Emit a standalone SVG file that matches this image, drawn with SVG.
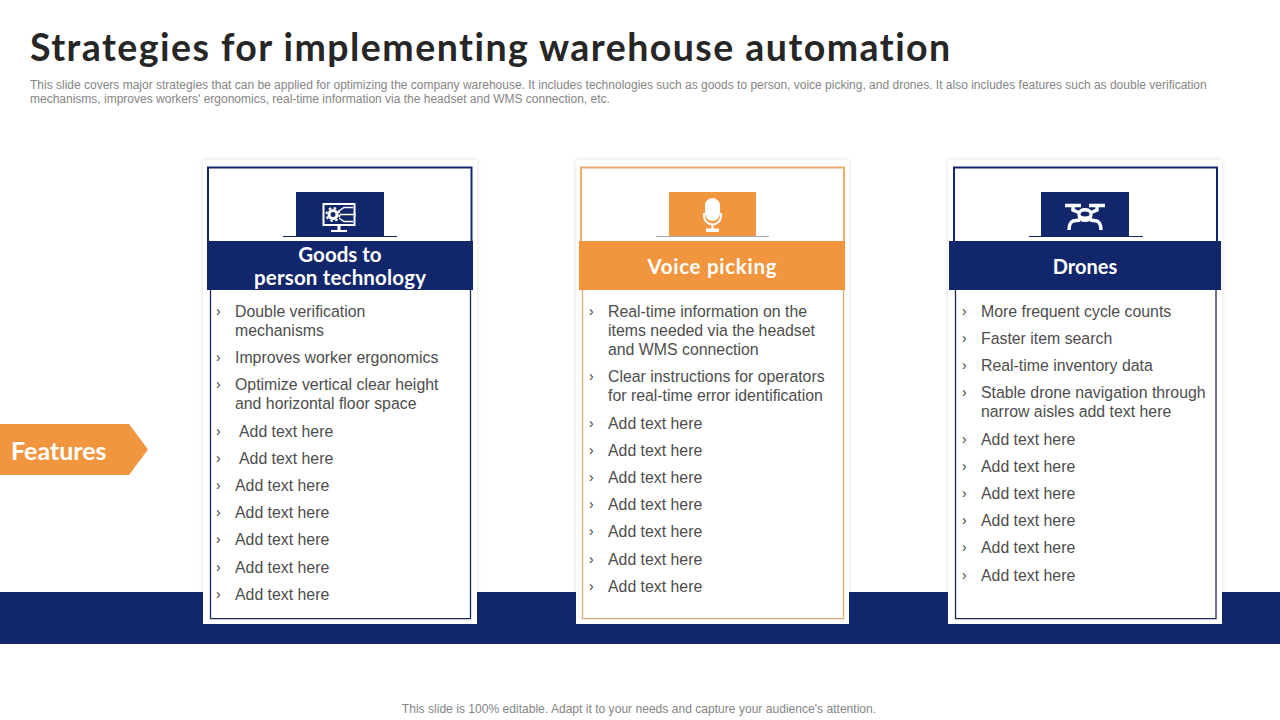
<svg xmlns="http://www.w3.org/2000/svg" width="1280" height="720" viewBox="0 0 1280 720">
<style>
.title{font:700 37.500px Lato,"Liberation Sans",sans-serif;fill:#262626;letter-spacing:1.450px}
.sub{font:12px "Liberation Sans",Arial,sans-serif;fill:#858585}
.hd{font:700 20.500px Lato,"Liberation Sans",sans-serif;fill:#fff;text-anchor:middle}
.it{font:15.850px "Liberation Sans",Arial,sans-serif;fill:#4d4d4d}
.ch{font:14px "Liberation Sans",Arial,sans-serif;fill:#404040}
.card{fill:#fff;filter:url(#sh)}
.navy{fill:#12276b}
.orange{fill:#f2953f}
</style>
<defs>
<filter id="sh" x="-5%" y="-5%" width="110%" height="110%"><feDropShadow dx="0" dy="0" stdDeviation="2" flood-color="#000" flood-opacity=".13"/></filter>
</defs>
<rect width="1280" height="720" fill="#fff"/>
<text class="title" x="30" y="61">Strategies for implementing warehouse automation</text>
<text class="sub" x="30" y="89">This slide covers major strategies that can be applied for optimizing the company warehouse. It includes technologies such as goods to person, voice picking, and drones. It also includes features such as double verification</text>
<text class="sub" x="30" y="103">mechanisms, improves workers' ergonomics, real-time information via the headset and WMS connection, etc.</text>
<rect id="band" class="navy" x="0" y="592" width="1280" height="52"/>
<g id="features"><path class="orange" d="M0 424H129L148 449.500L129 475H0Z"/><text x="11" y="460" style="font:700 25px Lato,'Liberation Sans',sans-serif;fill:#fff">Features</text></g>

<g id="card1">
<rect class="card" x="203" y="160" width="274" height="464"/>
<path stroke="#12276b" stroke-width="2" fill="none" d="M208 241V167.500H471.500V241"/>
<path fill="none" stroke="#1c2a55" stroke-width="1.300" d="M210.500 290V618.700H470.500V290"/>
<rect class="navy" x="296" y="192" width="88" height="45"/>
<path stroke="#12276b" d="M283 236.500H397"/>
<g fill="none" stroke="#fff" stroke-width="2"><rect x="323.500" y="204" width="31" height="21"/><circle cx="333" cy="214.500" r="4" stroke-width="3"/><circle cx="333" cy="214.500" r="6.500" stroke-width="2" stroke-dasharray="2.500 2.600"/><path d="M339 211L344 207.500H353M340 214.500H356M339 218L344 221.500H353" stroke-width="1.500"/><path d="M339 225V230" stroke-width="3"/><path d="M331 231H347" stroke-width="2"/></g>
<rect class="navy" x="207" y="241" width="266" height="49"/>
<text class="hd" x="340" y="262">Goods to</text><text class="hd" x="340" y="285" textLength="172" lengthAdjust="spacing">person technology</text>
<g class="ch"><text x="216" y="316">›</text><text x="216" y="362">›</text><text x="216" y="389">›</text><text x="216" y="436">›</text><text x="216" y="463">›</text><text x="216" y="490">›</text><text x="216" y="517">›</text><text x="216" y="544">›</text><text x="216" y="572">›</text><text x="216" y="599">›</text></g>
<g class="it"><text x="235" y="317">Double verification</text><text x="235" y="336">mechanisms</text><text x="235" y="363">Improves worker ergonomics</text><text x="235" y="390">Optimize vertical clear height</text><text x="235" y="409">and horizontal floor space</text><text x="239" y="437">Add text here</text><text x="239" y="464">Add text here</text><text x="235" y="491">Add text here</text><text x="235" y="518">Add text here</text><text x="235" y="545">Add text here</text><text x="235" y="573">Add text here</text><text x="235" y="600">Add text here</text></g>
</g>

<g id="card2">
<rect class="card" x="576" y="160" width="273" height="464"/>
<path fill="none" stroke="#ecaa6c" stroke-width="2" d="M581 241V167.500H844V241"/>
<path fill="none" stroke="#e0ad75" stroke-width="1.300" d="M582.500 290V618.700H843.500V290"/>
<rect class="orange" x="669" y="192" width="87" height="45"/>
<path stroke="#a8a8a8" d="M656 236.500H769"/>
<rect x="705" y="198" width="15" height="23" rx="7.500" fill="#fff"/>
<path d="M704 213V216a8.500 8.500 0 0 0 17 0V213M712.500 225V230" fill="none" stroke="#fff" stroke-width="2"/>
<rect x="706" y="228.500" width="13" height="3.500" fill="#fff"/>
<rect class="orange" x="579" y="241" width="266" height="49"/>
<text class="hd" x="712" y="274" textLength="129" lengthAdjust="spacing">Voice picking</text>
<g class="ch"><text x="589" y="316">›</text><text x="589" y="381">›</text><text x="589" y="428">›</text><text x="589" y="455">›</text><text x="589" y="482">›</text><text x="589" y="509">›</text><text x="589" y="536">›</text><text x="589" y="564">›</text><text x="589" y="591">›</text></g>
<g class="it"><text x="608" y="317">Real-time information on the</text><text x="608" y="336">items needed via the headset</text><text x="608" y="355">and WMS connection</text><text x="608" y="382">Clear instructions for operators</text><text x="608" y="401">for real-time error identification</text><text x="608" y="429">Add text here</text><text x="608" y="456">Add text here</text><text x="608" y="483">Add text here</text><text x="608" y="510">Add text here</text><text x="608" y="537">Add text here</text><text x="608" y="565">Add text here</text><text x="608" y="592">Add text here</text></g>
</g>

<g id="card3">
<rect class="card" x="948" y="160" width="274" height="464"/>
<path fill="none" stroke="#12276b" stroke-width="2" d="M954 241V167.500H1217V241"/>
<path fill="none" stroke="#1c2a55" stroke-width="1.300" d="M955.500 290V618.700H1216V290"/>
<rect class="navy" x="1041" y="192" width="88" height="45"/>
<path stroke="#12276b" d="M1029 236.500H1143"/>
<g fill="none" stroke="#fff" stroke-width="3.500"><path d="M1065 205.500H1081M1089 205.500H1105" stroke-width="3.500"/><path d="M1073 205V210L1080 213M1097 205V210L1090 213"/><rect x="1077.500" y="208" width="15" height="14" rx="6.500" fill="#fff" stroke="none"/><ellipse cx="1085" cy="214" rx="4.500" ry="2.500" fill="#12276b" stroke="none"/><path d="M1080 220L1073 221Q1069 223 1069 230M1090 220L1097 221Q1101 223 1101 230"/></g>
<rect class="navy" x="949" y="241" width="272" height="49"/>
<text class="hd" x="1085" y="274" style="font-size:20px">Drones</text>
<g class="ch"><text x="962" y="316">›</text><text x="962" y="343">›</text><text x="962" y="370">›</text><text x="962" y="397">›</text><text x="962" y="444">›</text><text x="962" y="471">›</text><text x="962" y="498">›</text><text x="962" y="525">›</text><text x="962" y="552">›</text><text x="962" y="580">›</text></g>
<g class="it"><text x="981" y="317">More frequent cycle counts</text><text x="981" y="344">Faster item search</text><text x="981" y="371">Real-time inventory data</text><text x="981" y="398">Stable drone navigation through</text><text x="981" y="417">narrow aisles add text here</text><text x="981" y="445">Add text here</text><text x="981" y="472">Add text here</text><text x="981" y="499">Add text here</text><text x="981" y="526">Add text here</text><text x="981" y="553">Add text here</text><text x="981" y="581">Add text here</text></g>
</g>
<text x="639" y="713" text-anchor="middle" style="font:12.080px 'Liberation Sans',Arial,sans-serif;fill:#858585">This slide is 100% editable. Adapt it to your needs and capture your audience's attention.</text>
</svg>
